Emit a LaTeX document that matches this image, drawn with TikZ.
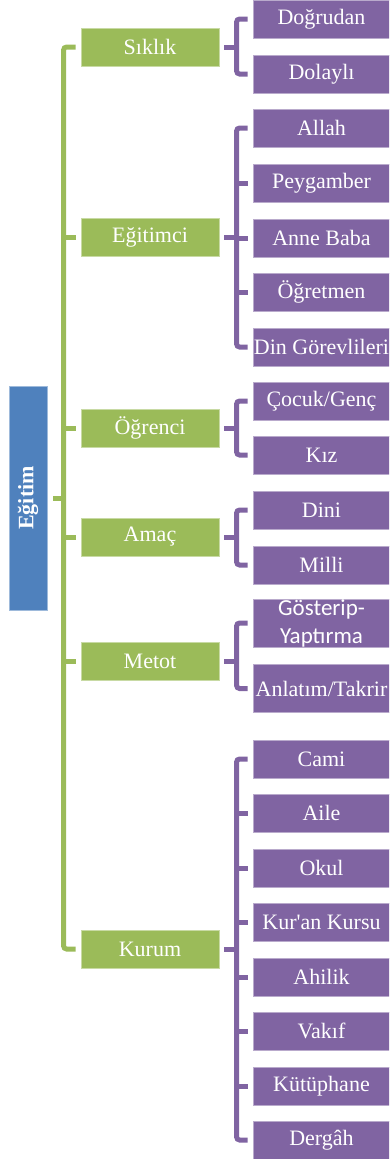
\documentclass[tikz,border=0pt]{standalone}
\usepackage{fontspec}
\setmainfont{Liberation Serif}
\newfontfamily\plainrm{Liberation Serif}
\newfontfamily\sansfont{Carlito}
\usetikzlibrary{positioning}

\definecolor{rootblue}{HTML}{4F81BD}
\definecolor{lvlgreen}{HTML}{9BBB59}
\definecolor{lvlpurple}{HTML}{8064A2}

\begin{document}
\begin{tikzpicture}[x=1pt,y=-1pt,
  rootbox/.style={fill=rootblue,draw=rootblue!55!white,line width=0.8pt,minimum width=38pt,minimum height=224pt,inner sep=0pt,text=white,font=\fontsize{22}{24}\selectfont\bfseries},
  midbox/.style={fill=lvlgreen,draw=lvlgreen!55!white,line width=0.8pt,minimum width=138pt,minimum height=38pt,inner sep=0pt,text=white,font=\fontsize{22}{24}\selectfont},
  leafbox/.style={fill=lvlpurple,draw=lvlpurple!55!white,line width=0.8pt,minimum width=137pt,minimum height=38pt,inner sep=0pt,text=white,font=\fontsize{22}{24}\selectfont},
  gline/.style={draw=lvlgreen,line width=5pt,rounded corners=3pt},
  pline/.style={draw=lvlpurple,line width=5pt,rounded corners=3pt}]

\useasboundingbox (0,0) rectangle (389,1159);
\clip (0,0) rectangle (389,1159);

% root
\node[rootbox] (egitim) at (28,498) {\rotatebox{90}{Eğitim}};

% second level
\node[midbox] (sik)  at (150,47)  {Sıklık};
\node[midbox] (egt)  at (150,237) {Eğitimci};
\node[midbox] (ogr)  at (150,428) {Öğrenci};
\node[midbox] (amac) at (150,537) {Amaç};
\node[midbox] (met)  at (150,661) {Metot};
\node[midbox] (kur)  at (150,949) {Kurum};

% leaves
\node[leafbox] (dog) at (321.5,19)  {Doğrudan};
\node[leafbox] (dol) at (321.5,74)  {Dolaylı};

\node[leafbox] (all) at (321.5,128) {Allah};
\node[leafbox] (pey) at (321.5,183) {Peygamber};
\node[leafbox] (ann) at (321.5,238) {Anne Baba};
\node[leafbox] (ogt) at (321.5,292) {Öğretmen};
\node[leafbox] (din) at (321.5,347) {Din Görevlileri};

\node[leafbox] (coc) at (321.5,401) {Çocuk/Genç};
\node[leafbox] (kiz) at (321.5,455) {Kız};

\node[leafbox] (dini) at (321.5,510) {Dini};
\node[leafbox] (mil)  at (321.5,565) {Milli};

\node[leafbox,minimum height=48pt,align=center,font=\sansfont\fontsize{23}{28}\selectfont] (gos) at (321.5,623) {Gösterip-\\Yaptırma};
\node[leafbox,minimum height=48pt] (anl) at (321.5,688.5) {\raisebox{-5pt}{Anlatım/Takrir}};

\node[leafbox] (cami) at (321.5,759)  {Cami};
\node[leafbox] (aile) at (321.5,813)  {Aile};
\node[leafbox] (okul) at (321.5,868)  {Okul};
\node[leafbox] (kurs) at (321.5,922)  {Kur{\plainrm '}an Kursu};
\node[leafbox] (ahi)  at (321.5,977)  {Ahilik};
\node[leafbox] (vak)  at (321.5,1031) {Vakıf};
\node[leafbox] (kut)  at (321.5,1086) {Kütüphane};
\node[leafbox] (der)  at (321.5,1140) {Dergâh};

% green tree
\draw[gline] ([xshift=6pt]egitim.east) -- ([xshift=17pt]egitim.east);
\draw[gline] ([xshift=-5pt]sik.west) -| ([xshift=-17pt]kur.west) -- ([xshift=-5pt]kur.west);
\foreach \n in {egt,ogr,amac,met}
  \draw[gline] ([xshift=-5pt]\n.west) -- ([xshift=-17pt]\n.west);

% purple brackets
\draw[pline] ([xshift=-5pt]dog.west) -| ([xshift=-16pt]dol.west) -- ([xshift=-5pt]dol.west);
\draw[pline] ([xshift=5pt]sik.east) -- ([xshift=18pt]sik.east);

\draw[pline] ([xshift=-5pt]all.west) -| ([xshift=-16pt]din.west) -- ([xshift=-5pt]din.west);
\foreach \n in {pey,ann,ogt}
  \draw[pline] ([xshift=-5pt]\n.west) -- ([xshift=-16pt]\n.west);
\draw[pline] ([xshift=5pt]egt.east) -- ([xshift=18pt]egt.east);

\draw[pline] ([xshift=-5pt]coc.west) -| ([xshift=-16pt]kiz.west) -- ([xshift=-5pt]kiz.west);
\draw[pline] ([xshift=5pt]ogr.east) -- ([xshift=18pt]ogr.east);

\draw[pline] ([xshift=-5pt]dini.west) -| ([xshift=-16pt]mil.west) -- ([xshift=-5pt]mil.west);
\draw[pline] ([xshift=5pt]amac.east) -- ([xshift=18pt]amac.east);

\draw[pline] ([xshift=-5pt]gos.west) -| ([xshift=-16pt]anl.west) -- ([xshift=-5pt]anl.west);
\draw[pline] ([xshift=5pt]met.east) -- ([xshift=18pt]met.east);

\draw[pline] ([xshift=-5pt]cami.west) -| ([xshift=-16pt]der.west) -- ([xshift=-5pt]der.west);
\foreach \n in {aile,okul,kurs,ahi,vak,kut}
  \draw[pline] ([xshift=-5pt]\n.west) -- ([xshift=-16pt]\n.west);
\draw[pline] ([xshift=5pt]kur.east) -- ([xshift=18pt]kur.east);

\end{tikzpicture}
\end{document}
